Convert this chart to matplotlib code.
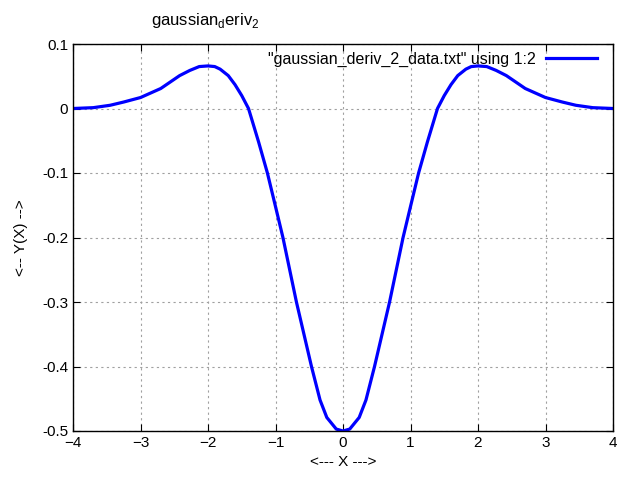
import numpy as np
import matplotlib
matplotlib.use('Agg')
import matplotlib.pyplot as plt

plt.rcParams['font.family'] = ['Liberation Sans', 'DejaVu Sans']
plt.rcParams['mathtext.fontset'] = 'custom'
plt.rcParams['mathtext.rm'] = 'Liberation Sans'

# values (symmetric curve, left half)
x_half = [-4.0, -3.7, -3.45, -3.25, -3.0, -2.85, -2.7, -2.42, -2.27, -2.13,
          -2.0, -1.9, -1.82, -1.7, -1.6, -1.5, -1.4, -1.25, -1.12, -1.0,
          -0.89, -0.69, -0.467, -0.34, -0.24, -0.1, 0.0]
y_half = [0.000, 0.0013, 0.005, 0.010, 0.017, 0.024, 0.031, 0.051, 0.059, 0.065,
          0.066, 0.065, 0.061, 0.051, 0.037, 0.020, 0.000, -0.052, -0.100, -0.152,
          -0.200, -0.300, -0.400, -0.452, -0.479, -0.497, -0.500]

x = x_half + [-v for v in x_half[-2::-1]]
y = y_half + y_half[-2::-1]

fig = plt.figure(figsize=(6.4, 4.8), dpi=100)
ax = fig.add_axes([73/640, 1-431/480, 540/640, 387/480])

ax.plot(x, y, color='#0000ff', lw=2.3, label='"gaussian_deriv_2_data.txt" using 1:2')

ax.set_xlim(-4, 4)
ax.set_ylim(-0.5, 0.1)
ax.set_xticks(np.arange(-4, 5, 1))
ax.set_yticks([-0.5, -0.4, -0.3, -0.2, -0.1, 0, 0.1])
ax.set_yticklabels(['-0.5', '-0.4', '-0.3', '-0.2', '-0.1', '0', '0.1'])
ax.grid(True, color='#a0a0a0', linestyle=(0, (2, 3)), linewidth=0.8)
ax.tick_params(direction='in', top=True, right=True, labelsize=11, length=5)
for s in ax.spines.values():
    s.set_linewidth(1.0)

ax.set_xlabel('<--- X --->', fontsize=11, labelpad=4)
ax.set_ylabel('<-- Y(X) -->', fontsize=11, labelpad=10)

fig.text(205/640, 1-20/480, r'gaussian$_{\rm d}$eriv$_{\rm 2}$', fontsize=12,
         ha='center', va='center')

ax.legend(loc='upper right', frameon=False, markerfirst=False, fontsize=11.5,
          handlelength=3.2, borderaxespad=0.1, handletextpad=0.6,
          bbox_to_anchor=(0.985, 1.0))

fig.savefig('out.png', dpi=100)
